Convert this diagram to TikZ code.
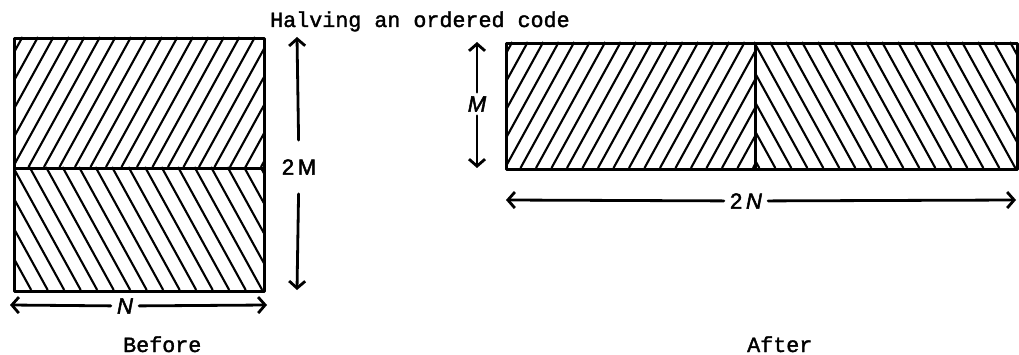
\documentclass[tikz,border=0pt]{standalone}
\usepackage{fontspec}
\setmainfont{Liberation Serif}
\newfontfamily\monofam[FakeBold=1.6]{Liberation Mono}
\newfontfamily\handfam[FakeBold=2.2]{Liberation Sans}
\usetikzlibrary{arrows.meta}
\tikzset{
  box/.style={draw=black, line width=3.4pt, line join=round},
  hatchline/.style={black, line width=2.1pt},
  dimarrow/.style={black, line width=2.8pt, line cap=round, -{Straight Barb[length=7pt,width=16pt,line width=2.8pt]}},
  dimlabel/.style={font=\handfam\fontsize{22}{24}\selectfont, inner sep=0pt},
  caption/.style={font=\monofam\fontsize{21.7}{26}\selectfont, inner sep=0pt, anchor=base west},
}
\begin{document}
\begin{tikzpicture}[x=1pt,y=-1pt]
\useasboundingbox (0,0) rectangle (1019,355);
% ---------- Before: left box ----------
\begin{scope}
  \clip (13,37) rectangle (263,167);
  \foreach \i in {-6,...,18} {
    \draw[hatchline] (13+\i*15.5,167) -- ++(71.5,-130);
  }
\end{scope}
\begin{scope}
  \clip (13,167) rectangle (263,290);
  \foreach \i in {-6,...,18} {
    \draw[hatchline] (13+\i*16.5,167) -- ++(67.7,123);
  }
\end{scope}
\node[box, minimum width=250pt, minimum height=130pt, inner sep=0pt, anchor=north west] (beforeTop) at (13,37) {};
\node[box, minimum width=250pt, minimum height=123pt, inner sep=0pt, anchor=north west] (beforeBot) at (13,167) {};
% 2M arrow
\coordinate (tmA) at (297,37);
\coordinate (bmA) at (297,290);
\node[dimlabel, inner ysep=19pt] (lab2M) at (299,167) {2\,M};
\draw[dimarrow] (lab2M) -- (tmA);
\draw[dimarrow] (lab2M) -- (bmA);
% N arrow
\coordinate (nL) at (10,305);
\coordinate (nR) at (267,305);
\node[dimlabel, inner xsep=6pt] (labN) at (125,306) {\itshape N};
\draw[dimarrow] (labN) -- (nL);
\draw[dimarrow] (labN) -- (nR);
% ---------- After: right box ----------
\begin{scope}
  \clip (505,42) rectangle (754,168);
  \foreach \i in {-6,...,18} {
    \draw[hatchline] (505+\i*15.5,168) -- ++(69.3,-126);
  }
\end{scope}
\begin{scope}
  \clip (754,42) rectangle (1017,168);
  \foreach \i in {-6,...,18} {
    \draw[hatchline] (754+\i*16,42) -- ++(69.3,126);
  }
\end{scope}
\node[box, minimum width=249pt, minimum height=126pt, inner sep=0pt, anchor=north west] (afterLeft) at (505,42) {};
\node[box, minimum width=262pt, minimum height=126pt, inner sep=0pt, anchor=north west] (afterRight) at (754,42) {};
% M arrow
\coordinate (mT) at (477,42);
\coordinate (mB) at (477,168);
\node[dimlabel, inner ysep=4pt] (labM) at (477,104) {\itshape M};
\draw[dimarrow] (labM) -- (mT);
\draw[dimarrow] (labM) -- (mB);
% 2N arrow
\coordinate (nnL) at (506,200);
\coordinate (nnR) at (1016,200);
\node[dimlabel, inner xsep=6pt] (lab2N) at (746,201) {2\,\itshape N};
\draw[dimarrow] (lab2N) -- (nnL);
\draw[dimarrow] (lab2N) -- (nnR);
% ---------- captions ----------
\node[caption] (title) at (270,27) {Halving an ordered code};
\node[caption] (before) at (123,352) {Before};
\node[caption] (after) at (747,352) {After};
\end{tikzpicture}
\end{document}
